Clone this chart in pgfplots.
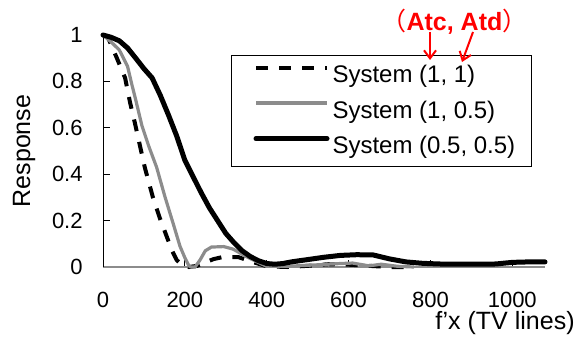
\documentclass[border=0pt]{standalone}
\usepackage{fontspec}
\setmainfont{Liberation Sans}
\newfontfamily\cjk{Noto Sans CJK JP}
\usepackage{pgfplots}
\pgfplotsset{compat=1.18}
\usetikzlibrary{arrows.meta}
\definecolor{gline}{RGB}{140,140,140}
\begin{document}
\begin{tikzpicture}
\path[use as bounding box] (-51.5pt,-35.5pt) rectangle (236.5pt,133.5pt);
\begin{axis}[
  scale only axis, width=221pt, height=116pt,
  xmin=0, xmax=1080, ymin=0, ymax=1,
  clip=false,
  axis lines*=left,
  x axis line style={gline, line width=1.2pt},
  y axis line style={black, line width=0.5pt},
  xtick={0,200,400,600,800,1000},
  ytick={0,0.2,0.4,0.6,0.8,1},
  tick align=inside, major tick length=3.5pt,
  tick style={black, line width=0.4pt},
  /pgf/number format/assume math mode=true,
  /pgf/number format/1000 sep={},
  ticklabel style={font=\fontsize{11}{13}\selectfont, inner sep=0pt},
  xticklabel style={yshift=-12.5pt},
  yticklabel style={xshift=-10pt},
  xlabel={f’x (TV lines)},
  ylabel={Response},
  label style={font=\fontsize{12.5}{15}\selectfont, inner sep=0pt},
  xlabel style={at={(axis description cs:1.0679,-0.2414)}, anchor=east},
  ylabel style={at={(axis description cs:-0.1787,0.5)}, anchor=center},
  legend style={at={(axis description cs:0.2896,0.9138)}, anchor=north west,
    draw=black, line width=0.5pt, fill=white, inner xsep=8pt, inner ysep=5pt,
    row sep=7.5pt, column sep=0pt, font=\fontsize{12}{14}\selectfont,
    nodes={inner xsep=0pt, inner ysep=0pt}},
  legend cell align=left,
  legend image code/.code={\path (0pt,0pt); \draw[#1] (3pt,4pt) -- (38.5pt,4pt); \path (40pt,0pt);},
]
\addplot[black, line width=2pt, dash pattern=on 6pt off 5.5pt] coordinates {
(0,1.0) (12,0.99) (34,0.90) (54,0.815) (66,0.71) (78,0.62) (90,0.525)
(102,0.43) (122,0.30) (139,0.21) (156,0.13) (168,0.073) (180,0.03)
(195,0.005) (210,0.0) (230,0.005) (250,0.02) (270,0.034) (290,0.042)
(330,0.043) (360,0.025) (400,0.003) (450,0.0) (500,0.005) (550,0.012)
(600,0.01) (650,0.005) (700,0.0) (760,0.0)
};
\addlegendentry{System (1, 1)}
\addplot[gline, line width=1.6pt] coordinates {
(0,1.0) (20,0.97) (40,0.935) (60,0.865) (70,0.79) (80,0.72) (95,0.61)
(112,0.52) (131,0.43) (151,0.305) (171,0.19) (188,0.09) (200,0.04)
(210,0.005) (215,0.0) (225,0.0) (237,0.03) (250,0.07) (265,0.086)
(295,0.088) (318,0.077) (350,0.045) (383,0.017) (400,0.003) (450,0.003)
(530,0.01) (580,0.015) (610,0.017) (650,0.005) (680,0.012) (720,0.003)
(760,0.0)
};
\addlegendentry{System (1, 0.5)}
\addplot[black, line width=2.5pt, line join=round, line cap=round] coordinates {
(0,1.0) (20,0.99) (40,0.975) (60,0.944) (80,0.90) (100,0.855) (120,0.815)
(140,0.74) (160,0.655) (180,0.565) (200,0.46) (220,0.39) (240,0.32)
(260,0.255) (280,0.20) (300,0.145) (320,0.105) (340,0.07) (360,0.045)
(380,0.027) (400,0.015) (420,0.012) (440,0.015) (460,0.022) (500,0.032)
(540,0.042) (580,0.05) (620,0.053) (660,0.052) (700,0.035) (740,0.022)
(780,0.016) (820,0.013) (900,0.012) (960,0.013) (1000,0.02) (1040,0.022)
(1080,0.022)
};
\addlegendentry{System (0.5, 0.5)}
\end{axis}
\node[red, font=\fontsize{12.5}{15}\selectfont\bfseries] at (175.75pt,122.5pt)
  {{\cjk\mdseries （}Atc, Atd{\cjk\mdseries ）}};
\draw[red, line width=1pt, -{Straight Barb[length=4pt,width=6pt]}]
  (163.5pt,117.5pt) -- (163.5pt,103.5pt);
\draw[red, line width=1pt, -{Straight Barb[length=4pt,width=6pt]}]
  (185pt,117.5pt) -- (179.5pt,102.5pt);
\end{tikzpicture}
\end{document}
